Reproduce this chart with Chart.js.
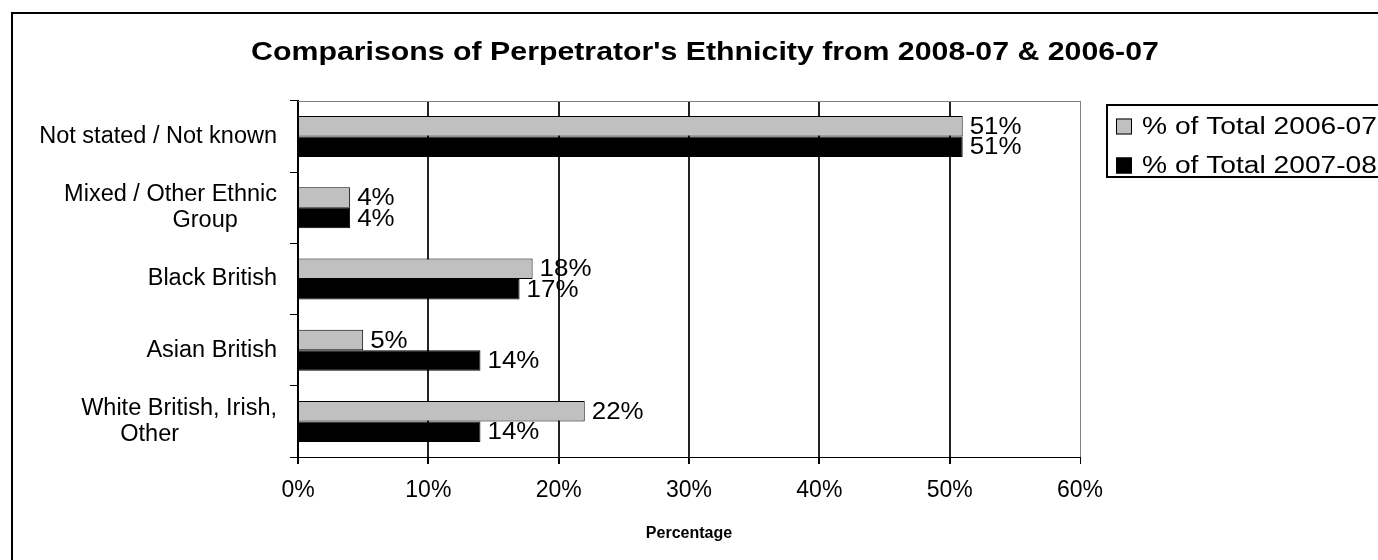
<!DOCTYPE html>
<html>
<head>
<meta charset="utf-8">
<script src="https://cdn.jsdelivr.net/npm/chart.js@4.4.0/dist/chart.umd.min.js"></script>
<style>
  html, body { margin: 0; padding: 0; background: #fff; overflow: hidden; width: 1378px; height: 560px; }
  #frame { position: absolute; left: 11px; top: 12px; width: 2000px; height: 2000px; border: 2px solid #000; box-sizing: border-box; }
  #wrap { position: absolute; left: 0; top: 0; width: 1410px; height: 560px; }
</style>
</head>
<body>
<div id="frame"></div>
<div id="wrap"><canvas id="c"></canvas></div>
<script>
// Chart content
const chartTitle = "Comparisons of Perpetrator's Ethnicity from 2008-07 & 2006-07";
const axisTitle = "Percentage";
const categories = [
  ["Not stated / Not known"],
  ["Mixed / Other Ethnic", "Group      "],
  ["Black British"],
  ["Asian British"],
  ["White British, Irish,", "Other               "]
];
const seriesNames = ["% of Total 2006-07", "% of Total 2007-08"];
const total0607 = [51, 4, 18, 5, 22];
const total0708 = [51, 4, 17, 14, 14];
const xTickValues = [0, 10, 20, 30, 40, 50, 60];

const FONT = '"Liberation Sans", Arial, Helvetica, sans-serif';

// Draws a string stretched horizontally, the way the office chart renders its fonts
function stretchedText(ctx, text, x, y, font, sx, align, baseline) {
  ctx.save();
  ctx.font = font;
  ctx.fillStyle = '#000';
  ctx.textAlign = align;
  ctx.textBaseline = baseline;
  ctx.translate(x, y);
  ctx.scale(sx, 1);
  ctx.fillText(text, 0, 0);
  ctx.restore();
}

const headline = {
  id: 'headline',
  afterDraw(chart) {
    stretchedText(chart.ctx, chartTitle, chart.width / 2, 60, 'bold 26px ' + FONT, 1.165, 'center', 'alphabetic');
  }
};

const plotFrame = {
  id: 'plotFrame',
  beforeDatasetsDraw(chart) {
    const a = chart.chartArea, ctx = chart.ctx;
    ctx.save();
    ctx.strokeStyle = '#808080';
    ctx.lineWidth = 1;
    ctx.beginPath();
    ctx.moveTo(a.left, a.top + 0.5);
    ctx.lineTo(a.right, a.top + 0.5);
    ctx.stroke();
    ctx.restore();
  }
};

const valueLabels = {
  id: 'valueLabels',
  afterDatasetsDraw(chart) {
    chart.data.datasets.forEach((ds, i) => {
      chart.getDatasetMeta(i).data.forEach((bar, j) => {
        stretchedText(chart.ctx, ds.data[j] + '%', bar.x + 7, bar.y + 1, '24px ' + FONT, 1.08, 'left', 'middle');
      });
    });
  }
};

const sideLegend = {
  id: 'sideLegend',
  afterDraw(chart) {
    const ctx = chart.ctx;
    ctx.save();
    ctx.strokeStyle = '#000';
    ctx.lineWidth = 2;
    ctx.strokeRect(1107, 105, 400, 72);
    chart.data.datasets.forEach((ds, i) => {
      const cy = 126.5 + i * 39;
      ctx.fillStyle = ds.backgroundColor;
      ctx.fillRect(1116, cy - 8, 16, 16);
      ctx.lineWidth = 1;
      ctx.strokeStyle = '#000';
      ctx.strokeRect(1116.5, cy - 7.5, 15, 15);
      stretchedText(ctx, ds.label, 1142, cy + 1, '23px ' + FONT, 1.225, 'left', 'middle');
    });
    ctx.restore();
  }
};

new Chart(document.getElementById('c'), {
  type: 'bar',
  data: {
    labels: categories,
    datasets: [
      { label: seriesNames[0], data: total0607, backgroundColor: '#c0c0c0', borderColor: '#000', borderWidth: 1 },
      { label: seriesNames[1], data: total0708, backgroundColor: '#000000', borderColor: '#000', borderWidth: 1 }
    ]
  },
  options: {
    indexAxis: 'y',
    responsive: true,
    maintainAspectRatio: false,
    animation: false,
    events: [],
    categoryPercentage: 0.576,
    barPercentage: 1.0,
    layout: { padding: { top: 101, right: 330, bottom: 0, left: 0 } },
    plugins: {
      legend: { display: false },
      title: { display: false },
      tooltip: { enabled: false }
    },
    scales: {
      x: {
        min: xTickValues[0],
        max: xTickValues[xTickValues.length - 1],
        ticks: {
          stepSize: xTickValues[1] - xTickValues[0],
          callback: v => v + '%',
          color: '#000',
          font: { family: FONT, size: 23 },
          padding: 13,
          maxRotation: 0
        },
        grid: {
          color: c => (c.index === xTickValues.length - 1 ? '#808080' : '#222'),
          tickColor: '#000',
          tickLength: 7,
          lineWidth: c => (c.index === xTickValues.length - 1 ? 1 : 2)
        },
        border: { color: '#000', width: 1 },
        title: {
          display: true,
          text: axisTitle,
          color: '#000',
          font: { family: FONT, size: 16, weight: 'bold' },
          padding: { top: 0, bottom: 17 }
        },
        afterFit(s) { s.height = 103; }
      },
      y: {
        grid: { drawOnChartArea: false, drawTicks: true, tickLength: 8, color: '#000', lineWidth: 1, offset: true },
        border: { color: '#000', width: 2 },
        ticks: {
          color: '#000',
          font: { family: FONT, size: 23.5, lineHeight: 1.1 },
          padding: 13
        },
        afterFit(s) { s.width = 298; }
      }
    }
  },
  plugins: [headline, plotFrame, valueLabels, sideLegend]
});
</script>
</body>
</html>
